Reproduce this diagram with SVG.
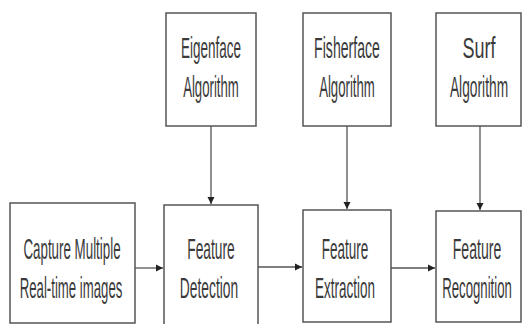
<svg xmlns="http://www.w3.org/2000/svg" width="523" height="324" viewBox="0 0 523 324">
<style>
.box{fill:#fff;stroke:#555;stroke-width:1.5}
.lbl{font-family:"Liberation Sans",Arial,sans-serif;font-size:30px;fill:#3a3a3a;text-anchor:middle}
.conn{stroke:#555;stroke-width:1.3;fill:none;marker-end:url(#ah)}
</style>
<defs>
<marker id="ah" markerUnits="userSpaceOnUse" markerWidth="8" markerHeight="8" refX="7" refY="4" orient="auto">
<path d="M0,0.5 L7,4 L0,7.5 Z" fill="#222"/>
</marker>
</defs>
<rect width="523" height="324" fill="#fff"/>
<g id="eigenface">
<rect class="box" x="166" y="13" width="90" height="113"/>
<text class="lbl" transform="translate(211,58) scale(0.45,1)">Eigenface</text>
<text class="lbl" transform="translate(211,97) scale(0.44,1)">Algorithm</text>
</g>
<g id="fisherface">
<rect class="box" x="303" y="13" width="88" height="113"/>
<text class="lbl" transform="translate(347,58) scale(0.47,1)">Fisherface</text>
<text class="lbl" transform="translate(347,97) scale(0.44,1)">Algorithm</text>
</g>
<g id="surf">
<rect class="box" x="436" y="13" width="85" height="113"/>
<text class="lbl" transform="translate(479,58) scale(0.6,1)">Surf</text>
<text class="lbl" transform="translate(479,97) scale(0.46,1)">Algorithm</text>
</g>
<g id="capture">
<rect class="box" x="10" y="203" width="125" height="120"/>
<text class="lbl" transform="translate(72,259) scale(0.445,1)">Capture Multiple</text>
<text class="lbl" transform="translate(71,298) scale(0.44,1)">Real-time images</text>
</g>
<g id="detection">
<rect class="box" x="164" y="205" width="94" height="120"/>
<text class="lbl" transform="translate(211,259) scale(0.46,1)">Feature</text>
<text class="lbl" transform="translate(209,298) scale(0.46,1)">Detection</text>
</g>
<g id="extraction">
<rect class="box" x="303" y="210" width="88" height="112"/>
<text class="lbl" transform="translate(345,259) scale(0.45,1)">Feature</text>
<text class="lbl" transform="translate(345,298) scale(0.45,1)">Extraction</text>
</g>
<g id="recognition">
<rect class="box" x="436" y="211" width="85" height="111"/>
<text class="lbl" transform="translate(477,259) scale(0.47,1)">Feature</text>
<text class="lbl" transform="translate(477,298) scale(0.44,1)">Recognition</text>
</g>
<g id="connectors">
<line class="conn" x1="211" y1="126" x2="211" y2="204"/>
<line class="conn" x1="347" y1="126" x2="347" y2="209"/>
<line class="conn" x1="480" y1="126" x2="480" y2="210"/>
<line class="conn" x1="135" y1="268" x2="163" y2="268"/>
<line class="conn" x1="258" y1="267" x2="302" y2="267"/>
<line class="conn" x1="391" y1="268" x2="435" y2="268"/>
</g>
</svg>
